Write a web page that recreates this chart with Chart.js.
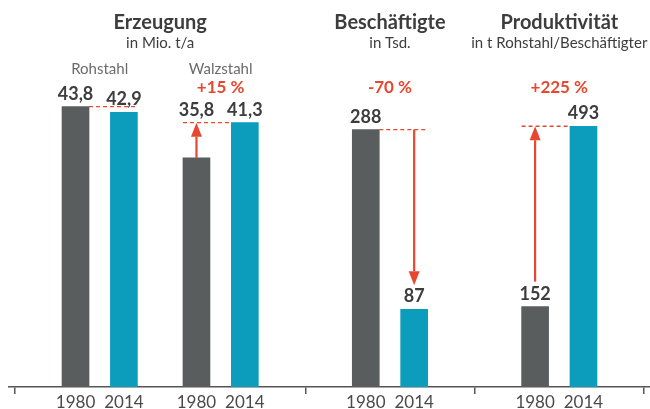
<!DOCTYPE html>
<html lang="de">
<head>
<meta charset="utf-8">
<title>Stahl 1980 / 2014</title>
<script src="https://cdn.jsdelivr.net/npm/chart.js@4.4.1/dist/chart.umd.min.js"></script>
<style>
  html, body { margin: 0; padding: 0; background: #fff; }
  #wrap { width: 650px; height: 409px; position: relative; }
</style>
</head>
<body>
<div id="wrap"><canvas id="chart"></canvas></div>
<script>
// values
const years = ['1980', '2014'];
const rohstahl = [43.8, 42.9];        // Mio. t/a
const walzstahl = [35.8, 41.3];       // Mio. t/a
const beschaeftigte = [288, 87];      // Tsd.
const produktivitaet = [152, 493];    // t Rohstahl / Beschäftigter
const changeLabels = ['+15 %', '-70 %', '+225 %'];

const GREY = '#5a5d5e';
const TEAL = '#0c9dbd';
const RED = '#e8472f';
const TEXT = '#3d3d3d';
const FONT = 'Lato, "Open Sans", sans-serif';

// panels -> series (each series is a 1980/2014 pair)
const panels = [
    { title: 'Erzeugung', unit: 'in Mio. t/a', axis: 'yE', series: [
        { name: 'Rohstahl', values: rohstahl, change: null },
        { name: 'Walzstahl', values: walzstahl, change: changeLabels[0] }
    ]},
    { title: 'Beschäftigte', unit: 'in Tsd.', axis: 'yB', series: [
        { name: null, values: beschaeftigte, change: changeLabels[1] }
    ]},
    { title: 'Produktivität', unit: 'in t Rohstahl/Beschäftigter', axis: 'yP', series: [
        { name: null, values: produktivitaet, change: changeLabels[2] }
    ]}
];

// slot layout on the category axis
const PANEL_PAD = 5, PAIR_STEP = 4, SERIES_GAP = 6;
const slotLabels = [];
const separators = [0];
let idx = 0;
panels.forEach(p => {
    idx += PANEL_PAD;
    p.series.forEach((s, si) => {
        if (si > 0) idx += SERIES_GAP;
        s.slots = [];
        years.forEach((y, yi) => {
            if (yi > 0) idx += PAIR_STEP;
            slotLabels[idx] = y;
            s.slots.push(idx);
        });
    });
    idx += PANEL_PAD;
    separators.push(idx);
});
const SLOT_COUNT = idx + 1;
for (let i = 0; i < SLOT_COUNT; i++) if (!slotLabels[i]) slotLabels[i] = '';

const datasets = panels.map(p => {
    const data = new Array(SLOT_COUNT).fill(null);
    const colors = new Array(SLOT_COUNT).fill(GREY);
    p.series.forEach(s => s.slots.forEach((slot, i) => {
        data[slot] = s.values[i];
        colors[slot] = i === 0 ? GREY : TEAL;
    }));
    return {
        label: p.title,
        data: data,
        backgroundColor: colors,
        yAxisID: p.axis,
        grouped: false,
        barThickness: 27
    };
});

const fmt = v => String(v).replace('.', ',');

function drawArrow(ctx, x, yFrom, yTo) {
    const dir = yTo < yFrom ? -1 : 1;
    const head = 14;
    ctx.strokeStyle = RED;
    ctx.fillStyle = RED;
    ctx.lineWidth = 2.2;
    ctx.setLineDash([]);
    ctx.beginPath();
    ctx.moveTo(x, yFrom);
    ctx.lineTo(x, yTo - dir * head);
    ctx.stroke();
    ctx.beginPath();
    ctx.moveTo(x, yTo);
    ctx.lineTo(x - 5.5, yTo - dir * head);
    ctx.lineTo(x + 5.5, yTo - dir * head);
    ctx.closePath();
    ctx.fill();
}

function dashed(ctx, x1, x2, y) {
    ctx.strokeStyle = RED;
    ctx.lineWidth = 1.3;
    ctx.setLineDash([4, 3]);
    ctx.beginPath();
    ctx.moveTo(x1, y);
    ctx.lineTo(x2, y);
    ctx.stroke();
    ctx.setLineDash([]);
}

const annotations = {
    id: 'annotations',
    afterDatasetsDraw(chart) {
        const ctx = chart.ctx;
        ctx.save();
        ctx.textAlign = 'center';
        ctx.textBaseline = 'alphabetic';
        panels.forEach((p, pi) => {
            const bars = chart.getDatasetMeta(pi).data;
            const first = bars[p.series[0].slots[0]];
            const lastS = p.series[p.series.length - 1];
            const last = bars[lastS.slots[1]];
            const cx = (first.x + last.x) / 2;

            ctx.fillStyle = TEXT;
            ctx.font = 'bold 20px ' + FONT;
            ctx.fillText(p.title, cx, 29);
            ctx.font = '15px ' + FONT;
            ctx.fillText(p.unit, cx, 48);

            p.series.forEach(s => {
                const b1 = bars[s.slots[0]];
                const b2 = bars[s.slots[1]];
                const sx = (b1.x + b2.x) / 2;
                const hw = b1.width / 2;
                if (s.name) {
                    ctx.fillStyle = '#6b6b6b';
                    ctx.font = '15px ' + FONT;
                    ctx.fillText(s.name, sx, 74);
                }
                if (s.change) {
                    ctx.fillStyle = RED;
                    ctx.font = 'bold 17px ' + FONT;
                    ctx.fillText(s.change, sx, 93);
                }

                const up = s.values[1] > s.values[0];
                const gap = Math.abs(b1.y - b2.y);
                let label1Y = b1.y - 7;
                const label2Y = b2.y - 7;
                if (s.change) {
                    if (up) {
                        dashed(ctx, b1.x - hw, b2.x - hw, b2.y);
                        if (gap < 60) {
                            // short rise: arrow starts at the bar, label goes above the line
                            drawArrow(ctx, b1.x, b1.y, b2.y);
                            label1Y = b2.y - 7;
                        } else {
                            drawArrow(ctx, b1.x, b1.y - 25, b2.y);
                        }
                    } else {
                        dashed(ctx, b1.x + hw, b2.x + hw, b1.y);
                        drawArrow(ctx, b2.x, b1.y, b2.y - 24);
                    }
                } else {
                    dashed(ctx, b1.x + hw, b2.x + hw, b1.y);
                }
                ctx.fillStyle = TEXT;
                ctx.font = 'bold 18px ' + FONT;
                ctx.fillText(fmt(s.values[0]), b1.x, label1Y);
                ctx.fillText(fmt(s.values[1]), b2.x, label2Y);
            });
        });
        ctx.restore();
    }
};

new Chart(document.getElementById('chart'), {
    type: 'bar',
    data: { labels: slotLabels, datasets: datasets },
    options: {
        responsive: true,
        maintainAspectRatio: false,
        animation: false,
        layout: { padding: { top: 67, left: 9, right: 0, bottom: -2 } },
        plugins: { legend: { display: false }, tooltip: { enabled: false } },
        scales: {
            x: {
                offset: true,
                grid: {
                    offset: false,
                    drawOnChartArea: false,
                    drawTicks: true,
                    tickLength: 7,
                    lineWidth: 1.5,
                    color: c => separators.includes(c.index) ? '#555' : 'transparent'
                },
                border: { display: true, color: '#555', width: 1.5 },
                ticks: {
                    autoSkip: false,
                    maxRotation: 0,
                    padding: 0,
                    color: '#4a4a4a',
                    font: { family: FONT, size: 17, lineHeight: 1 },
                    callback: (v, i) => slotLabels[i]
                }
            },
            yE: { display: false, min: 0, max: 50 },
            yB: { display: false, min: 0, max: 358 },
            yP: { display: false, min: 0, max: 605 }
        }
    },
    plugins: [annotations]
});
</script>
</body>
</html>
